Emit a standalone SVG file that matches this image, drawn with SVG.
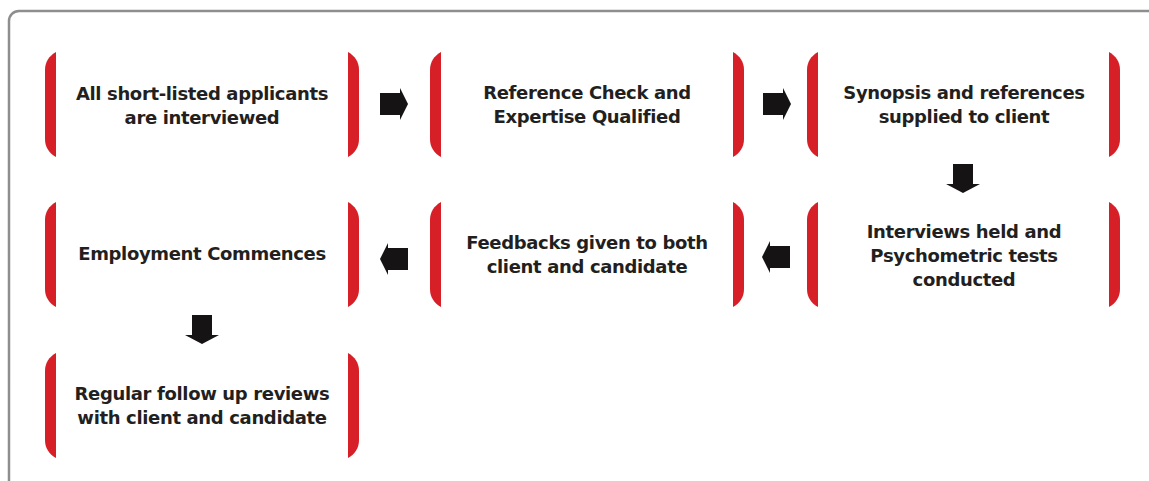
<svg xmlns="http://www.w3.org/2000/svg" xmlns:xlink="http://www.w3.org/1999/xlink" width="1149" height="481" viewBox="0 0 1149 481">
  <style>
    .br { fill: #d61f26; }
    .lbl { font-family: "DejaVu Sans", "Liberation Sans", sans-serif; font-weight: bold; font-size: 18px; letter-spacing: -0.35px; fill: #231f20; text-anchor: middle; }
    .arr { fill: #151313; }
  </style>
  <defs>
    <path id="bl" d="M11,0 C4,4 0,10 0,18 L0,87 C0,95 4,101 11,105 Z"/>
    <path id="brr" d="M0,0 C7,4 11,10 11,18 L11,87 C11,95 7,101 0,105 Z"/>
    <g id="arrowR">
      <rect x="0" y="-11" width="22" height="22"/>
      <polygon points="20,-16 28,0 20,16"/>
    </g>
    <g id="arrowD">
      <rect x="-10" y="0" width="20" height="21"/>
      <polygon points="-17,20 17,20 0,29"/>
    </g>
  </defs>
  <rect width="1149" height="481" fill="#ffffff"/>
  <rect x="9" y="11" width="1170" height="500" rx="10" fill="#ffffff" stroke="#8e8e8e" stroke-width="2.5"/>

  <g id="node1">
    <use xlink:href="#bl" class="br" x="45" y="52"/>
    <use xlink:href="#brr" class="br" x="348" y="52"/>
    <text class="lbl" x="202" y="100">All short-listed applicants</text>
    <text class="lbl" x="202" y="124">are interviewed</text>
  </g>
  <g id="node2">
    <use xlink:href="#bl" class="br" x="430" y="52"/>
    <use xlink:href="#brr" class="br" x="733" y="52"/>
    <text class="lbl" x="587" y="99">Reference Check and</text>
    <text class="lbl" x="587" y="123">Expertise Qualified</text>
  </g>
  <g id="node3">
    <use xlink:href="#bl" class="br" x="807" y="52"/>
    <use xlink:href="#brr" class="br" x="1109" y="52"/>
    <text class="lbl" x="964" y="99">Synopsis and references</text>
    <text class="lbl" x="964" y="123">supplied to client</text>
  </g>
  <g id="node4">
    <use xlink:href="#bl" class="br" x="45" y="202"/>
    <use xlink:href="#brr" class="br" x="348" y="202"/>
    <text class="lbl" x="202" y="260">Employment Commences</text>
  </g>
  <g id="node5">
    <use xlink:href="#bl" class="br" x="430" y="202"/>
    <use xlink:href="#brr" class="br" x="733" y="202"/>
    <text class="lbl" x="587" y="249">Feedbacks given to both</text>
    <text class="lbl" x="587" y="273">client and candidate</text>
  </g>
  <g id="node6">
    <use xlink:href="#bl" class="br" x="807" y="202"/>
    <use xlink:href="#brr" class="br" x="1109" y="202"/>
    <text class="lbl" x="964" y="238">Interviews held and</text>
    <text class="lbl" x="964" y="262">Psychometric tests</text>
    <text class="lbl" x="964" y="286">conducted</text>
  </g>
  <g id="node7">
    <use xlink:href="#bl" class="br" x="45" y="353"/>
    <use xlink:href="#brr" class="br" x="348" y="353"/>
    <text class="lbl" x="202" y="400">Regular follow up reviews</text>
    <text class="lbl" x="202" y="424">with client and candidate</text>
  </g>

  <g id="connectors" class="arr">
    <use xlink:href="#arrowR" x="380" y="104"/>
    <use xlink:href="#arrowR" x="763" y="104"/>
    <use xlink:href="#arrowD" x="963" y="164"/>
    <use xlink:href="#arrowR" transform="translate(790,257) scale(-1,1)"/>
    <use xlink:href="#arrowR" transform="translate(408,259) scale(-1,1)"/>
    <use xlink:href="#arrowD" x="202" y="315"/>
  </g>
</svg>
